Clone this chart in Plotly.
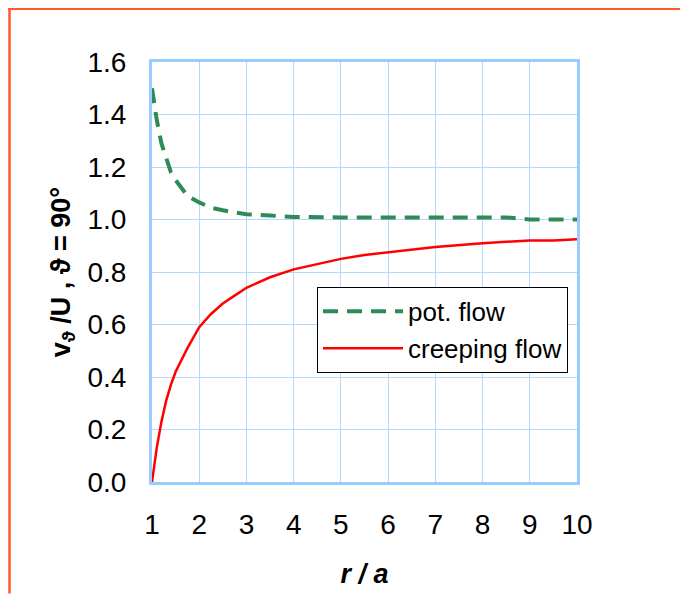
import plotly.graph_objects as go

# r/a sample positions and values
r_pot = [1.0, 1.1, 1.2, 1.3, 1.4, 1.5, 1.75, 2.0, 2.25, 2.5, 3.0, 3.5, 4.0, 5.0, 6.0, 7.0, 8.0, 8.5, 9.0, 10.0]
v_pot = [1.50, 1.38, 1.29, 1.23, 1.18, 1.15, 1.09, 1.065, 1.045, 1.035, 1.02, 1.015, 1.01, 1.008, 1.008, 1.008, 1.008, 1.008, 1.0, 1.0]

r_creep = [1.0, 1.1, 1.2, 1.3, 1.4, 1.5, 1.75, 2.0, 2.25, 2.5, 2.75, 3.0, 3.5, 4.0, 4.5, 5.0, 5.5, 6.0, 6.5, 7.0, 8.0, 9.0, 9.5, 10.0]
v_creep = [0.0, 0.13, 0.23, 0.31, 0.37, 0.42, 0.51, 0.59, 0.64, 0.68, 0.71, 0.74, 0.78, 0.81, 0.83, 0.85, 0.865, 0.875, 0.885, 0.895, 0.91, 0.92, 0.92, 0.925]

x_ticks = [1, 2, 3, 4, 5, 6, 7, 8, 9, 10]
y_ticks = [0.0, 0.2, 0.4, 0.6, 0.8, 1.0, 1.2, 1.4, 1.6]

# the page body adds an 8px offset, so the figure is laid out 8px smaller
OFF = 8
W, H = 688 - OFF, 596 - OFF
L, T = 152 - OFF, 62 - OFF
pw, ph = 425, 422
R, B = W - L - pw, H - T - ph

def px(p):
    return (p - OFF - L) / pw

def py(p):
    return (H - B - (p - OFF)) / ph

fig = go.Figure()
fig.add_trace(go.Scatter(x=r_pot, y=v_pot, mode="lines", name="pot. flow",
                         line=dict(color="#2e8b57", width=4, dash="15px,9px")))
fig.add_trace(go.Scatter(x=r_creep, y=v_creep, mode="lines", name="creeping flow",
                         line=dict(color="#ff0000", width=2.5)))

font = "Liberation Sans, Arial, sans-serif"
shapes = [
    # orange border (top and left)
    dict(type="line", xref="paper", yref="paper", x0=px(8), x1=px(688), y0=py(8.5), y1=py(8.5),
         line=dict(color="#ff5a28", width=2.5)),
    dict(type="line", xref="paper", yref="paper", x0=px(9.5), x1=px(9.5), y0=py(8), y1=py(596),
         line=dict(color="#ff5a28", width=2.5)),
]

fig.update_layout(
    width=W, height=H,
    margin=dict(l=L, r=R, t=T, b=B),
    paper_bgcolor="white", plot_bgcolor="white",
    font=dict(family=font, size=28, color="black"),
    showlegend=True,
    legend=dict(x=px(317), y=py(288), xanchor="left", yanchor="top",
                bgcolor="white", bordercolor="black", borderwidth=1,
                font=dict(size=26), tracegroupgap=0, itemwidth=80),
    shapes=shapes,
)
fig.update_xaxes(range=[1, 10], tickvals=x_ticks, ticktext=[str(v) for v in x_ticks],
                 showgrid=True, gridcolor="#b3d9ff", gridwidth=1,
                 showline=True, linecolor="#99ccff", linewidth=3, mirror=True,
                 ticks="", ticklabelstandoff=15, zeroline=False,
                 title=dict(text="<b><i>r / a</i></b>", font=dict(size=27), standoff=26))
fig.update_yaxes(range=[0, 1.6], tickvals=y_ticks, ticktext=[f"{v:.1f}" for v in y_ticks],
                 showgrid=True, gridcolor="#b3d9ff", gridwidth=1,
                 showline=True, linecolor="#99ccff", linewidth=3, mirror=True,
                 ticks="", ticklabelstandoff=17, zeroline=False,
                 title=dict(text="<b>v<sub>ϑ</sub> /U , ϑ = 90°</b>", font=dict(size=27), standoff=10))

fig.write_html("out.html")
